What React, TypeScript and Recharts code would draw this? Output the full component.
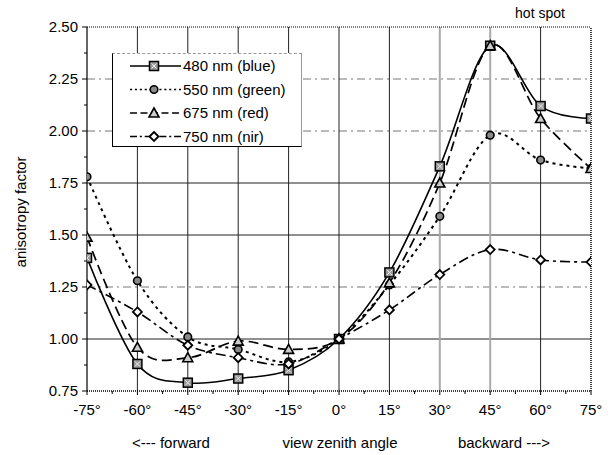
import React from "react";
import {
  LineChart,
  Line,
  XAxis,
  YAxis,
  ReferenceLine,
} from "recharts";

const angles = [-75, -60, -45, -30, -15, 0, 15, 30, 45, 60, 75];
const angleMinorTicks = [-67.5, -52.5, -37.5, -22.5, -7.5, 7.5, 22.5, 37.5, 52.5, 67.5];
const blue480 = [1.39, 0.88, 0.79, 0.81, 0.85, 1.0, 1.32, 1.83, 2.41, 2.12, 2.06];
const green550 = [1.78, 1.28, 1.01, 0.95, 0.89, 1.0, 1.26, 1.59, 1.98, 1.86, 1.82];
const red675 = [1.49, 0.96, 0.91, 0.99, 0.95, 1.0, 1.27, 1.75, 2.41, 2.06, 1.82];
const nir750 = [1.26, 1.13, 0.97, 0.91, 0.88, 1.0, 1.14, 1.31, 1.43, 1.38, 1.37];
const yTicks = [0.75, 1.0, 1.25, 1.5, 1.75, 2.0, 2.25, 2.5];
const yMinorTicks = [0.875, 1.125, 1.375, 1.625, 1.875, 2.125, 2.375];

const data = angles.map((a, i) => ({
  angle: a,
  blue: blue480[i],
  green: green550[i],
  red: red675[i],
  nir: nir750[i],
}));

const FONT = "'Liberation Sans', Arial, Helvetica, sans-serif";

// Excel-like smoothed line (cardinal spline, tension 0)
const smoothCurve = (context: any) => {
  let x0 = NaN, y0 = NaN, x1 = NaN, y1 = NaN, x2 = NaN, y2 = NaN;
  let pt = 0;
  let line = NaN;
  const k = 1 / 6;
  const seg = (x: number, y: number) => {
    context.bezierCurveTo(
      x1 + k * (x2 - x0), y1 + k * (y2 - y0),
      x2 + k * (x1 - x), y2 + k * (y1 - y),
      x2, y2
    );
  };
  return {
    areaStart() { line = 0; },
    areaEnd() { line = NaN; },
    lineStart() { x0 = x1 = x2 = y0 = y1 = y2 = NaN; pt = 0; },
    lineEnd() {
      if (pt === 2) context.lineTo(x2, y2);
      else if (pt === 3) seg(x1, y1);
      if (line || (line !== 0 && pt === 1)) context.closePath();
      line = 1 - line;
    },
    point(x: number, y: number) {
      x = +x; y = +y;
      if (pt === 0) {
        pt = 1;
        line ? context.lineTo(x, y) : context.moveTo(x, y);
      } else if (pt === 1) {
        pt = 2;
        x1 = x; y1 = y;
      } else {
        if (pt === 2) pt = 3;
        seg(x, y);
      }
      x0 = x1; x1 = x2; x2 = x;
      y0 = y1; y1 = y2; y2 = y;
    },
  };
};

type Marker = "square" | "circle" | "triangle" | "diamond";

function MarkerShape({ kind, cx, cy }: { kind: Marker; cx: number; cy: number }) {
  if (kind === "square") {
    return (
      <g>
        <rect x={cx - 4.5} y={cy - 4.5} width={9} height={9} fill="#9a9a9a" stroke="#000" strokeWidth={1.5} />
        <path d={`M${cx - 2.5},${cy - 2.5}L${cx + 2.5},${cy + 2.5}M${cx + 2.5},${cy - 2.5}L${cx - 2.5},${cy + 2.5}`} stroke="#eee" strokeWidth={1} />
      </g>
    );
  }
  if (kind === "circle") {
    return <circle cx={cx} cy={cy} r={3.8} fill="#8a8a8a" stroke="#000" strokeWidth={1.6} />;
  }
  if (kind === "triangle") {
    return (
      <path
        d={`M${cx},${cy - 5}L${cx + 5},${cy + 4}L${cx - 5},${cy + 4}Z`}
        fill="#ccc"
        stroke="#000"
        strokeWidth={1.6}
      />
    );
  }
  return (
    <path
      d={`M${cx},${cy - 4.5}L${cx + 4.5},${cy}L${cx},${cy + 4.5}L${cx - 4.5},${cy}Z`}
      fill="#fff"
      stroke="#000"
      strokeWidth={1.8}
    />
  );
}

const series = [
  { key: "blue", name: "480 nm (blue)", marker: "square" as Marker, dash: undefined as string | undefined, width: 1.6 },
  { key: "green", name: "550 nm (green)", marker: "circle" as Marker, dash: "3 4", width: 2 },
  { key: "red", name: "675 nm (red)", marker: "triangle" as Marker, dash: "10 5", width: 1.7 },
  { key: "nir", name: "750 nm (nir)", marker: "diamond" as Marker, dash: "10 4 3 4", width: 1.6 },
];

const isMajor = (v: number, step: number) => Math.abs(v / step - Math.round(v / step)) < 1e-6;

// tick with short minor marks between labelled ones
const YTick = (props: any) => {
  const { x, y, payload } = props;
  const v = payload.value as number;
  const ax = x + 9;
  const major = isMajor(v, 0.25);
  return (
    <g>
      <line x1={ax} x2={ax - (major ? 5 : 3)} y1={y} y2={y} stroke="#000" />
      {major && (
        <text x={x} y={y} dy="0.355em" textAnchor="end" fontFamily={FONT} fontSize={15} fill="#000">
          {v.toFixed(2)}
        </text>
      )}
    </g>
  );
};

const XTick = (props: any) => {
  const { x, y, payload } = props;
  const v = payload.value as number;
  const ay = y - 13;
  const major = isMajor(v, 15);
  return (
    <g>
      <line x1={x} x2={x} y1={ay} y2={ay + (major ? 4 : 3)} stroke="#000" />
      {major && (
        <text x={x} y={y} dy="0.71em" textAnchor="middle" fontFamily={FONT} fontSize={15} fill="#000">
          {`${v}°`}
        </text>
      )}
    </g>
  );
};

function LegendBox() {
  return (
    <div
      style={{
        position: "absolute",
        left: 112,
        top: 53,
        width: 190,
        height: 94,
        boxSizing: "border-box",
        borderLeft: "1px solid #000",
        borderBottom: "1px solid #000",
        borderRight: "1px solid #999",
        borderTop: "1px dashed #999",
        background: "#fff",
      }}
    >
      <svg width={188} height={92} style={{ display: "block" }}>
        {series.map((s, i) => {
          const y = 12 + i * 23.5;
          return (
            <g key={s.key}>
              <line x1={17} x2={68} y1={y} y2={y} stroke="#000" strokeWidth={s.width * 0.8} strokeDasharray={s.dash ? s.dash.split(" ").map((d) => +d * 0.7).join(" ") : undefined} />
              <MarkerShape kind={s.marker} cx={41} cy={y} />
              <text x={70} y={y + 5} fontFamily={FONT} fontSize={15} fill="#000">
                {s.name}
              </text>
            </g>
          );
        })}
      </svg>
    </div>
  );
}

const solidRows = [1.0, 1.5, 1.75];

export default function App() {
  return (
    <div style={{ position: "absolute", left: 0, top: 0, width: 608, height: 455, background: "#fff" }}>
      <LineChart
        width={608}
        height={455}
        data={data}
        margin={{ top: 27, right: 17, bottom: 34, left: 0 }}
        style={{ fontFamily: FONT }}
      >
        {yTicks.slice(1, -1).map((v) =>
          solidRows.includes(v) ? (
            <ReferenceLine key={`h${v}`} y={v} stroke="#222" />
          ) : (
            <ReferenceLine key={`h${v}`} y={v} stroke="#777" strokeDasharray="8 4 2 4" />
          )
        )}
        {angles.slice(1, -1).map((a) =>
          a === 30 || a === 45 ? (
            <ReferenceLine key={`v${a}`} x={a} stroke="#aaa" strokeWidth={2} />
          ) : (
            <ReferenceLine key={`v${a}`} x={a} stroke="#222" />
          )
        )}
        <ReferenceLine y={2.5} stroke="#000" strokeDasharray="1 1" />
        <ReferenceLine x={75} stroke="#000" strokeDasharray="1 1" strokeWidth={1.5} />
        <XAxis
          dataKey="angle"
          type="number"
          domain={[-75, 75]}
          ticks={[...angles, ...angleMinorTicks].sort((a, b) => a - b)}
          interval={0}
          tick={<XTick />}
          tickSize={4}
          tickMargin={9}
          tickLine={false}
          axisLine={{ stroke: "#000", strokeDasharray: "1 1", strokeWidth: 1.5 }}
          height={30}
          allowDataOverflow
        />
        <YAxis
          type="number"
          domain={[0.75, 2.5]}
          ticks={[...yTicks, ...yMinorTicks].sort((a, b) => a - b)}
          interval={0}
          tick={<YTick />}
          tickSize={5}
          tickMargin={4}
          tickLine={false}
          axisLine={{ stroke: "#000", strokeWidth: 1.2 }}
          width={87}
          allowDataOverflow
        />
        {series.map((s) => (
          <Line
            key={s.key}
            dataKey={s.key}
            name={s.name}
            type={smoothCurve as any}
            stroke="#000"
            strokeWidth={s.width}
            strokeDasharray={s.dash}
            dot={(p: any) => <MarkerShape key={`${s.key}-${p.index}`} kind={s.marker} cx={p.cx} cy={p.cy} />}
            activeDot={false}
            isAnimationActive={false}
          />
        ))}
        <text x={20} y={212} transform="rotate(-90 20 212)" textAnchor="middle" dominantBaseline="central" fontFamily={FONT} fontSize={15} fill="#000">
          anisotropy factor
        </text>
        <text x={540} y={18} textAnchor="middle" fontFamily={FONT} fontSize={14} fill="#000">
          hot spot
        </text>
        <text x={171} y={448} textAnchor="middle" fontFamily={FONT} fontSize={15} fill="#000">
          {"<--- forward"}
        </text>
        <text x={340} y={448} textAnchor="middle" fontFamily={FONT} fontSize={15} fill="#000">
          view zenith angle
        </text>
        <text x={504} y={448} textAnchor="middle" fontFamily={FONT} fontSize={15} fill="#000">
          {"backward --->"}
        </text>
      </LineChart>
      <LegendBox />
    </div>
  );
}
